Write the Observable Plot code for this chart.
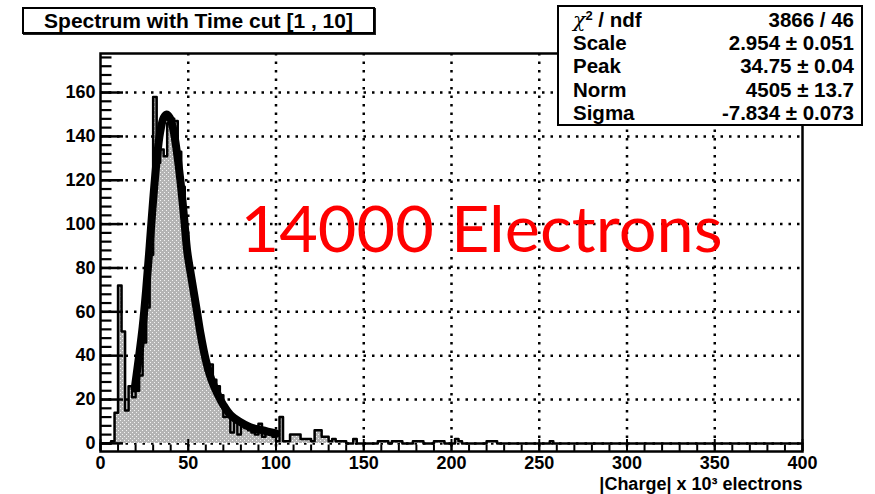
<!DOCTYPE html>
<html>
<head>
<meta charset="utf-8">
<script src="https://cdn.jsdelivr.net/npm/d3@7"></script>
<script src="https://cdn.jsdelivr.net/npm/@observablehq/plot@0.6"></script>
<style>
  html, body { margin: 0; padding: 0; background: #fff; }
  #wrap { position: relative; width: 875px; height: 494px; font-family: "Liberation Sans", Arial, Helvetica, sans-serif; font-weight: bold; color: #000; }
  #title { position: absolute; left: 22px; top: 7px; width: 353px; height: 27px; box-sizing: border-box; border: 2px solid #000; box-shadow: 1px 1px 0 #222; background: #fff; text-align: center; font-size: 21px; line-height: 23px; white-space: nowrap; }
  #stats { position: absolute; left: 557px; top: 5px; width: 306px; height: 121px; box-sizing: border-box; border: 2px solid #000; background: #fff; padding: 1px 7px 0 14px; font-size: 20.5px; }
  #stats .row { display: flex; justify-content: space-between; height: 23.2px; line-height: 23.2px; white-space: nowrap; }
  #stats sup { font-size: 13px; vertical-align: 7px; line-height: 0; }
  #stats i { font-family: "DejaVu Serif", serif; font-weight: normal; }
</style>
</head>
<body>
<div id="wrap">
  <div id="chart"></div>
  <div id="title"></div>
  <div id="stats"></div>
</div>
<script>
// Histogram: counts per 2 (x10^3 electrons) bin, bins starting at 0
const binWidth = 2;
const counts = [
  0, 0, 0, 1, 14, 72, 51, 15, 26, 21,
  24, 31, 46, 62, 86, 158, 128, 134, 131, 146,
  148, 147, 133, 117, 95, 82, 68, 58, 50, 42,
  33, 36, 29, 26, 22, 12, 14, 5, 10, 4,
  8, 7, 6, 5, 4, 9, 3, 5, 4, 3,
  1, 12, 1, 1, 4, 4, 4, 2, 2, 2,
  1, 6, 6, 3, 3, 1, 2, 1, 1, 1,
  0, 0, 2, 0, 0, 0, 0, 0, 0, 1,
  1, 1, 0, 1, 1, 1, 0, 0, 0, 1,
  1, 1, 0, 0, 0, 1, 1, 1, 0, 0,
  0, 2, 1, 0, 0, 0, 0, 0, 0, 0,
  1, 1, 1, 0, 0, 0, 0, 0, 0, 0,
  0, 0, 0, 0, 0, 0, 0, 0, 1, 0,
  0, 0, 0, 0, 0, 0, 0, 0, 0, 0,
  0, 0, 0, 0, 0, 0, 0, 0, 0, 0,
  0, 0, 0, 0, 0, 0, 0, 0, 0, 0,
  0, 0, 0, 0, 0, 0, 0, 0, 0, 0,
  0, 0, 0, 0, 0, 0, 0, 0, 0, 0,
  0, 0, 0, 0, 0, 0, 0, 0, 0, 0,
  0, 0, 0, 0, 0, 0, 0, 0, 0, 0
];

// Fitted curve, sampled over the fit range
const fitX = [19.5, 20.5, 22, 24, 26, 28, 30, 32, 34, 36, 37.6, 39.5, 41.5, 43.5, 45.5, 47.5, 49.5, 51.5, 55, 57, 60, 63, 67, 70, 74, 79, 85, 92, 100];
const fitY = [25, 31, 40, 53, 70, 90, 111, 129, 142, 148.5, 150, 148.5, 143, 133, 120, 104, 87, 77, 60, 50, 38, 29.5, 22, 17.5, 13, 10, 7.5, 6, 4.5];

// Fit statistics box
const statNames = ["χ² / ndf", "Scale", "Peak", "Norm", "Sigma"];
const statValues = ["3866 / 46", "2.954 ± 0.051", "34.75 ± 0.04", "4505 ± 13.7", "-7.834 ± 0.073"];

// Axes
const xDomain = [0, 400];
const yDomain = [-3.7, 177.8];
const xMajor = [0, 50, 100, 150, 200, 250, 300, 350, 400];
const xMinor = d3.range(0, 401, 10);
const yMajor = [0, 20, 40, 60, 80, 100, 120, 140, 160];
const yMinor = d3.range(0, 177, 4);

const titleText = "Spectrum with Time cut [1 , 10]";
const xTitle = "|Charge| x 10³ electrons";
const note = "14000 Electrons";

// Layout
const W = 875, H = 494;
const mL = 100, mR = 73, mT = 53, mB = 43;
const pxX = (W - mL - mR) / (xDomain[1] - xDomain[0]);
const pxY = (H - mT - mB) / (yDomain[1] - yDomain[0]);

const hist = counts.map((c, i) => ({x: i * binWidth, y: c}));
hist.push({x: counts.length * binWidth, y: counts[counts.length - 1]});
const fit = fitX.map((x, i) => ({x, y: fitY[i]}));

const font = '"Liberation Sans", Arial, Helvetica, sans-serif';

const svg = Plot.plot({
  width: W, height: H,
  marginLeft: mL, marginRight: mR, marginTop: mT, marginBottom: mB,
  style: {fontFamily: font, background: "white", overflow: "visible"},
  x: {domain: xDomain},
  y: {domain: yDomain},
  marks: [
    // dotted grid
    Plot.ruleY(yMajor, {y: d => d, stroke: "black", strokeWidth: 2.5, strokeDasharray: "2.5,6"}),
    Plot.ruleX(xMajor.slice(1, -1), {x: d => d, stroke: "black", strokeWidth: 2.5, strokeDasharray: "2.5,6"}),
    // histogram
    Plot.areaY(hist, {x: "x", y: "y", curve: "step-after", fill: "url(#rootFill)"}),
    Plot.lineY(hist, {x: "x", y: "y", curve: "step-after", stroke: "black", strokeWidth: 2.5}),
    // fit
    Plot.line(fit, {x: "x", y: "y", curve: "catmull-rom", stroke: "black", strokeWidth: 8, strokeLinejoin: "round"}),
    // inward ticks
    Plot.ruleY(yMinor, {y: d => d, x1: xDomain[0], x2: xDomain[0] + 11.5 / pxX, stroke: "black", strokeWidth: 2.2}),
    Plot.ruleY(yMajor, {y: d => d, x1: xDomain[0], x2: xDomain[0] + 23 / pxX, stroke: "black", strokeWidth: 2.5}),
    Plot.ruleX(xMinor, {x: d => d, y1: yDomain[0], y2: yDomain[0] + 6.5 / pxY, stroke: "black", strokeWidth: 2}),
    Plot.ruleX(xMajor, {x: d => d, y1: yDomain[0], y2: yDomain[0] + 12 / pxY, stroke: "black", strokeWidth: 2}),
    Plot.frame({stroke: "black", strokeWidth: 2.5}),
    Plot.axisY(yMajor, {tickSize: 0, tickPadding: 5, fontSize: 18, fontWeight: "bold", label: null}),
    Plot.axisX(xMajor, {tickSize: 0, tickPadding: 5, fontSize: 18, fontWeight: "bold", label: null}),
    Plot.text([xTitle], {frameAnchor: "bottom-right", text: d => d, textAnchor: "end", lineAnchor: "bottom", dy: 38, fontSize: 18, fontWeight: "bold"}),
    Plot.text([note], {frameAnchor: "top-left", text: d => d, textAnchor: "start", lineAnchor: "bottom", dx: 140, dy: 198, fontSize: 63, fontWeight: "normal", fill: "#ff0000", fontFamily: "Lato, 'Open Sans', sans-serif"})
  ]
});

// grey dotted fill used by the histogram
const defs = d3.select(svg).insert("defs", ":first-child");
const pat = defs.append("pattern").attr("id", "rootFill").attr("patternUnits", "userSpaceOnUse").attr("width", 4).attr("height", 4);
pat.append("rect").attr("width", 4).attr("height", 4).attr("fill", "#b4b4b4");
pat.append("rect").attr("x", 0).attr("y", 0).attr("width", 1).attr("height", 1).attr("fill", "#f4f4f4");
pat.append("rect").attr("x", 2).attr("y", 2).attr("width", 1).attr("height", 1).attr("fill", "#f4f4f4");

d3.select(svg).selectAll("text").filter(function () { return this.textContent === note; })
  .attr("textLength", 482).attr("lengthAdjust", "spacingAndGlyphs");

document.getElementById("chart").appendChild(svg);

document.getElementById("title").textContent = titleText;
const stats = d3.select("#stats");
statNames.forEach((name, i) => {
  const row = stats.append("div").attr("class", "row");
  const left = row.append("span");
  if (name.startsWith("χ")) {
    left.html('<i>χ</i><sup>2</sup> / ndf');
  } else {
    left.text(name);
  }
  row.append("span").text(statValues[i]);
});
</script>
</body>
</html>
